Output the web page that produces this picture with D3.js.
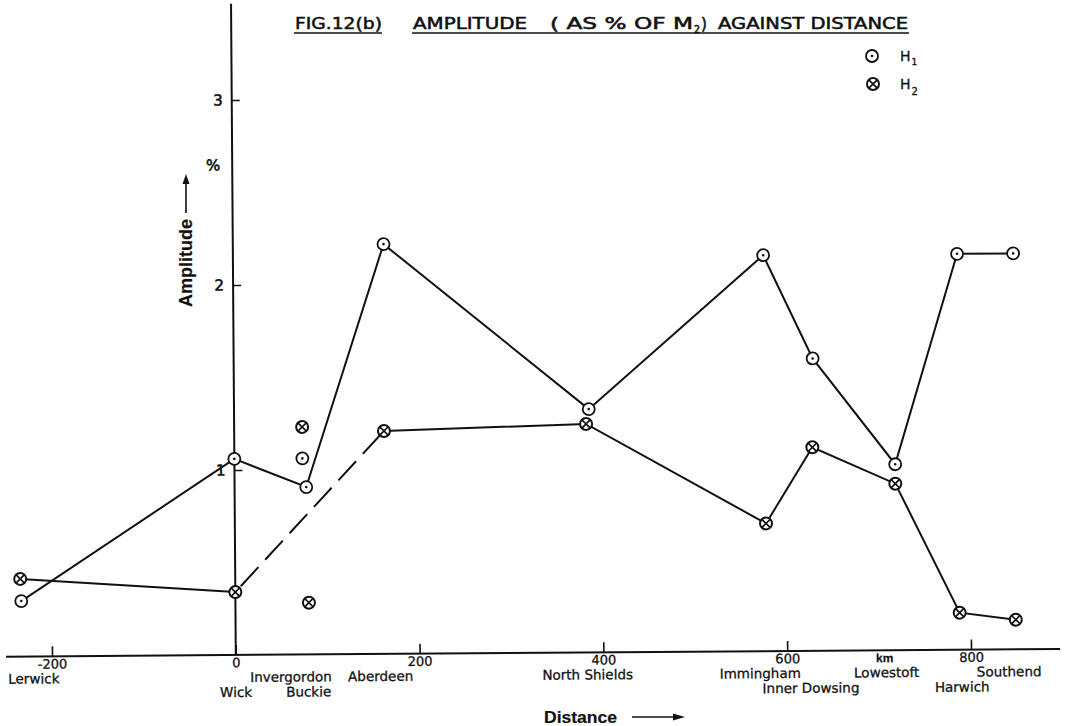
<!DOCTYPE html>
<html>
<head>
<meta charset="utf-8">
<script src="https://cdn.jsdelivr.net/npm/d3@7"></script>
<style>
  html, body { margin: 0; padding: 0; background: #fff; }
  svg { display: block; }
  text { paint-order: stroke; }
</style>
</head>
<body>
<svg id="chart" width="1070" height="726"></svg>
<script>
// ---- data ----------------------------------------------------------
const xTickValues = [-200, 0, 200, 400, 600, 800];
const yTickValues = [1, 2, 3];

const stationNames = ["Lerwick", "Wick", "Invergordon", "Buckie", "Aberdeen",
  "North Shields", "Immingham", "Inner Dowsing", "Lowestoft", "Harwich", "Southend"];
const stationKm = [-233, 0, 74, 79, 164, 386, 577, 630, 719, 788, 849];

// H1 amplitude (% of M2), joined series
const h1Km  = [-233, 0, 78, 164, 386, 577, 630, 719, 788, 849];
const h1Amp = [0.30, 1.06, 0.905, 2.215, 1.315, 2.14, 1.58, 1.005, 2.14, 2.14];
// H2 amplitude (% of M2), joined series
const h2Km  = [-234, 0, 163, 383, 578, 629, 719, 788, 849];
const h2Amp = [0.42, 0.34, 1.205, 1.235, 0.69, 1.10, 0.90, 0.20, 0.16];
// unjoined values near Invergordon / Buckie
const h1LooseKm  = [74];
const h1LooseAmp = [1.06];
const h2LooseKm  = [74, 80];
const h2LooseAmp = [1.23, 0.28];
// the H2 stretch Wick -> Aberdeen is drawn broken
const h2DashedSegment = [1, 2];

// ---- layout --------------------------------------------------------
// station label placement: row under the axis and sideways nudge (px)
const labelLayout = {
  "Lerwick": [1, 12], "Wick": [2, 0], "Invergordon": [1, -13], "Buckie": [2, 0],
  "Aberdeen": [1, -6], "North Shields": [1, -3], "Immingham": [1, -6],
  "Inner Dowsing": [2, -4], "Lowestoft": [1, -10], "Harwich": [2, 2], "Southend": [1, -7]
};
const rowOffset = [15, 27, 42];

const svg = d3.select("#chart");
const x = d3.scaleLinear().domain([-200, 800]).range([52, 971]);
const y = d3.scaleLinear().domain([0, 3]).range([655, 100]);
const x0 = x(0), y0 = y(0);

// plotting frame sits very slightly skewed on the sheet
const plot = svg.append("g").attr("transform", `rotate(-0.42, ${x0}, ${y0})`);

const ink = "#111";
const serif = "'DejaVu Sans', sans-serif";
const bold = "'Liberation Sans', Arial, sans-serif";

// heavier pen for lettering
function inked(sel, w) {
  return sel.attr("fill", ink).attr("stroke", ink).attr("stroke-width", w);
}

// ---- axes ----------------------------------------------------------
plot.append("line")
  .attr("x1", x(-250)).attr("x2", x(897))
  .attr("y1", y0).attr("y2", y0)
  .attr("stroke", ink).attr("stroke-width", 2);
plot.append("line")
  .attr("x1", x0).attr("x2", x0)
  .attr("y1", y0).attr("y2", y(3.52))
  .attr("stroke", ink).attr("stroke-width", 2);

const xAxis = d3.axisBottom(x).tickValues(xTickValues).tickSize(-10).tickPadding(3)
  .tickFormat(d => String(d));
const gx = plot.append("g").attr("transform", `translate(0,${y0})`).call(xAxis);
gx.select(".domain").remove();
gx.selectAll(".tick line").attr("stroke", ink).attr("stroke-width", 1.6);
inked(gx.selectAll(".tick text"), 0.3).attr("font-family", serif)
  .attr("font-size", 13).attr("dy", "0.71em");

const yAxis = d3.axisLeft(y).tickValues(yTickValues).tickSize(-8).tickPadding(9)
  .tickFormat(d3.format("d"));
const gy = plot.append("g").attr("transform", `translate(${x0},0)`).call(yAxis);
gy.select(".domain").remove();
gy.selectAll(".tick line").attr("stroke", ink).attr("stroke-width", 1.6);
inked(gy.selectAll(".tick text"), 0.6).attr("font-family", serif)
  .attr("font-size", 15);

inked(plot.append("text"), 0.6).attr("x", x0 - 19).attr("y", y(2.62))
  .attr("text-anchor", "middle").attr("font-family", serif)
  .attr("font-size", 15).text("%");

inked(plot.append("text"), 0.2).attr("x", x(706)).attr("y", y0 + 12)
  .attr("text-anchor", "middle").attr("font-family", bold)
  .attr("font-weight", "bold").attr("font-size", 12).text("km");

// station names under the axis
stationNames.forEach((name, i) => {
  const [row, dx] = labelLayout[name];
  inked(plot.append("text"), 0.3)
    .attr("x", x(stationKm[i]) + dx).attr("y", y0 + rowOffset[row])
    .attr("text-anchor", "middle").attr("font-family", serif)
    .attr("font-size", 13.5).text(name);
});

// ---- series --------------------------------------------------------
const h1 = h1Km.map((k, i) => [k, h1Amp[i]]);
const h2 = h2Km.map((k, i) => [k, h2Amp[i]]);
const line = d3.line().x(d => x(d[0])).y(d => y(d[1]));

plot.append("path").attr("d", line(h1))
  .attr("fill", "none").attr("stroke", ink).attr("stroke-width", 2);

// H2: solid pieces plus one broken stretch
const [ds, de] = h2DashedSegment;
plot.append("path").attr("d", line(h2.slice(0, ds + 1)))
  .attr("fill", "none").attr("stroke", ink).attr("stroke-width", 2);
plot.append("path").attr("d", line(h2.slice(ds, de + 1)))
  .attr("fill", "none").attr("stroke", ink).attr("stroke-width", 2)
  .attr("stroke-dasharray", "26,10").attr("stroke-dashoffset", -8);
plot.append("path").attr("d", line(h2.slice(de)))
  .attr("fill", "none").attr("stroke", ink).attr("stroke-width", 2);

function markerH1(g, cx, cy) {
  g.append("circle").attr("cx", cx).attr("cy", cy).attr("r", 6)
    .attr("fill", "#fff").attr("stroke", ink).attr("stroke-width", 1.8);
  g.append("circle").attr("cx", cx).attr("cy", cy).attr("r", 1.3).attr("fill", ink);
}
function markerH2(g, cx, cy) {
  g.append("circle").attr("cx", cx).attr("cy", cy).attr("r", 6)
    .attr("fill", "#fff").attr("stroke", ink).attr("stroke-width", 2);
  const a = 4.2;
  g.append("path")
    .attr("d", `M${cx - a},${cy - a}L${cx + a},${cy + a}M${cx - a},${cy + a}L${cx + a},${cy - a}`)
    .attr("stroke", ink).attr("stroke-width", 1.7);
}

h1.forEach(d => markerH1(plot, x(d[0]), y(d[1])));
h1LooseKm.forEach((k, i) => markerH1(plot, x(k), y(h1LooseAmp[i])));
h2.forEach(d => markerH2(plot, x(d[0]), y(d[1])));
h2LooseKm.forEach((k, i) => markerH2(plot, x(k), y(h2LooseAmp[i])));

// ---- axis titles ---------------------------------------------------
inked(svg.append("text"), 0.2).attr("transform", "translate(192,263) rotate(-90)")
  .attr("text-anchor", "middle").attr("font-family", bold).attr("font-weight", "bold")
  .attr("font-size", 18).text("Amplitude");
svg.append("line").attr("x1", 186).attr("x2", 186).attr("y1", 213).attr("y2", 182)
  .attr("stroke", ink).attr("stroke-width", 1.6);
svg.append("path").attr("d", "M186,174L182.5,184L189.5,184Z").attr("fill", ink);

inked(svg.append("text"), 0.2).attr("x", 544).attr("y", 723)
  .attr("font-family", bold).attr("font-weight", "bold")
  .attr("font-size", 16).attr("textLength", 73).attr("lengthAdjust", "spacingAndGlyphs")
  .text("Distance");
svg.append("line").attr("x1", 632).attr("x2", 676).attr("y1", 717).attr("y2", 717)
  .attr("stroke", ink).attr("stroke-width", 1.6);
svg.append("path").attr("d", "M685,717L673,713.5L673,720.5Z").attr("fill", ink);

// ---- title ---------------------------------------------------------
function titlePart(txt, x1, x2, fs, dy) {
  inked(svg.append("text"), 0.55).attr("x", x1).attr("y", 29 + (dy || 0))
    .attr("font-family", serif).attr("font-size", fs)
    .attr("textLength", x2 - x1).attr("lengthAdjust", "spacingAndGlyphs").text(txt);
}
titlePart("FIG.12(b)", 295, 382, 16.5);
titlePart("AMPLITUDE", 413, 527, 16.5);
titlePart("( AS % OF M", 550, 693, 16.5);
titlePart("2", 694, 700, 10, 4);
titlePart(")", 701, 707, 16.5);
titlePart("AGAINST DISTANCE", 718, 908, 16.5);
svg.append("line").attr("x1", 294).attr("x2", 382).attr("y1", 33).attr("y2", 33)
  .attr("stroke", ink).attr("stroke-width", 1.6);
svg.append("line").attr("x1", 412).attr("x2", 909).attr("y1", 33).attr("y2", 33)
  .attr("stroke", ink).attr("stroke-width", 1.6);

// ---- legend --------------------------------------------------------
markerH1(svg, 872, 56);
markerH2(svg, 873, 84);
inked(svg.append("text"), 0.3).attr("x", 900).attr("y", 61).attr("font-family", serif)
  .attr("font-size", 14)
  .call(t => { t.append("tspan").text("H");
               t.append("tspan").attr("font-size", 9).attr("dy", 4).attr("dx", 1).text("1"); });
inked(svg.append("text"), 0.3).attr("x", 900).attr("y", 89).attr("font-family", serif)
  .attr("font-size", 14)
  .call(t => { t.append("tspan").text("H");
               t.append("tspan").attr("font-size", 10).attr("dy", 6).attr("dx", 1).text("2"); });
</script>
</body>
</html>
